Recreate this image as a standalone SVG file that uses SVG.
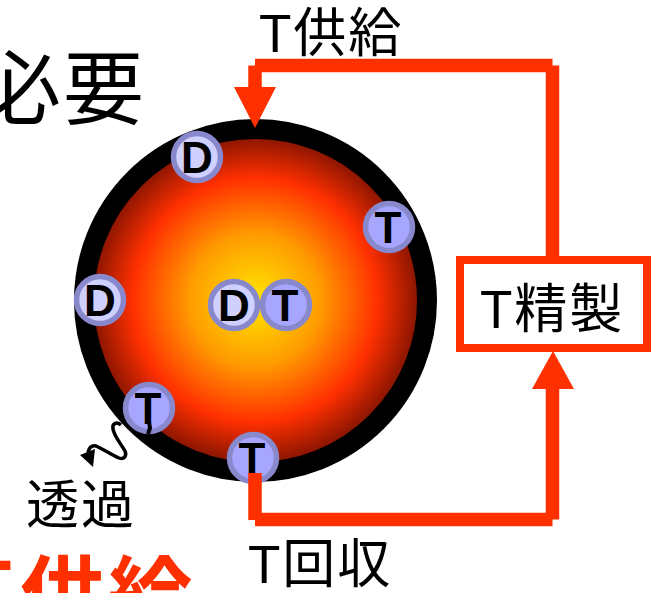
<svg xmlns="http://www.w3.org/2000/svg" width="653" height="593" viewBox="0 0 653 593">
  <style>
    text { font-family: "Liberation Sans", "Noto Sans CJK JP", sans-serif; fill: #000; }
    .label { font-size: 53px; letter-spacing: 2px; }
    .ball { stroke: #8888cc; stroke-width: 5.500; }
    .d { fill: #d0d0ff; }
    .t { fill: #a6a6ff; }
    .sym { font-size: 44px; font-weight: 700; text-anchor: middle; }
    .pipe { fill: none; stroke: #ff3000; stroke-width: 13.500; }
    .head { fill: #ff3000; }
  </style>
  <defs>
    <radialGradient id="plasma" cx="255" cy="300" r="163" gradientUnits="userSpaceOnUse">
      <stop offset="0" stop-color="#ffe600"/>
      <stop offset="0.40" stop-color="#ff9c00"/>
      <stop offset="0.75" stop-color="#ff3000"/>
      <stop offset="1" stop-color="#8a1500"/>
    </radialGradient>
  </defs>

  <text id="title" x="146" y="118" font-size="81" letter-spacing="2" text-anchor="end">必要</text>
  <text id="supply-heading" x="-40" y="618" font-size="84" font-weight="700" letter-spacing="4" style="fill:#ff3000"><tspan>T</tspan><tspan dx="5" dy="8">供給</tspan></text>

  <g id="vessel">
    <circle cx="255.500" cy="300.500" r="171.500" fill="url(#plasma)" stroke="#000" stroke-width="20"/>
  </g>

  <g id="particle-d1"><circle class="ball d" cx="197" cy="157" r="23.500"/><text class="sym" x="197" y="173">D</text></g>
  <g id="particle-d2"><circle class="ball d" cx="100" cy="300" r="23.500"/><text class="sym" x="100" y="316">D</text></g>
  <g id="particle-d3"><circle class="ball d" cx="234" cy="305" r="23.500"/><text class="sym" x="234" y="321">D</text></g>
  <g id="particle-t1"><circle class="ball t" cx="286" cy="305" r="23.500"/><text class="sym" x="285" y="321">T</text></g>
  <g id="particle-t2"><circle class="ball t" cx="389" cy="227" r="23.500"/><text class="sym" x="388" y="243">T</text></g>
  <g id="particle-t3"><circle class="ball t" cx="149" cy="408" r="23.500"/><text class="sym" x="148" y="424">T</text></g>
  <g id="particle-t4"><circle class="ball t" cx="253" cy="458" r="23.500"/><text class="sym" x="252" y="474">T</text></g>

  <g id="connectors">
    <!-- each run is a separate butt-ended stroke, which leaves the stepped corners -->
    <path class="pipe" d="M255 473V520"/>
    <path class="pipe" d="M255 519.500H552.500"/>
    <path class="pipe" d="M552.500 519.500V385"/>
    <polygon class="head" points="532,389 574,389 553,351"/>
    <path class="pipe" d="M552.500 258V65.500"/>
    <path class="pipe" d="M552.500 65.500H255"/>
    <path class="pipe" d="M255 65.500V90"/>
    <polygon class="head" points="234,87 276,87 255,128"/>
    <path d="M121 425C116 421 112 424 113 429C114 436 121 444 125 451C127 456 124 460 119 458C112 455 103 449 96 446C92 445 89 447 88 453" fill="none" stroke="#000" stroke-width="3.500"/>
    <polygon points="80,455 95,449 93,467" fill="#000"/>
    <path d="M149 422L150 428L148 434" fill="none" stroke="#000" stroke-width="4"/>
  </g>

  <g id="purifier">
    <rect x="460" y="260" width="187" height="88" fill="#fff" stroke="#ff3000" stroke-width="8"/>
    <text class="label" x="480" y="328">T精製</text>
  </g>

  <text id="label-supply" class="label" x="259" y="52">T供給</text>
  <text id="label-recovery" class="label" x="248" y="583">T回収</text>
  <text id="label-permeation" class="label" x="26" y="524">透過</text>
</svg>
